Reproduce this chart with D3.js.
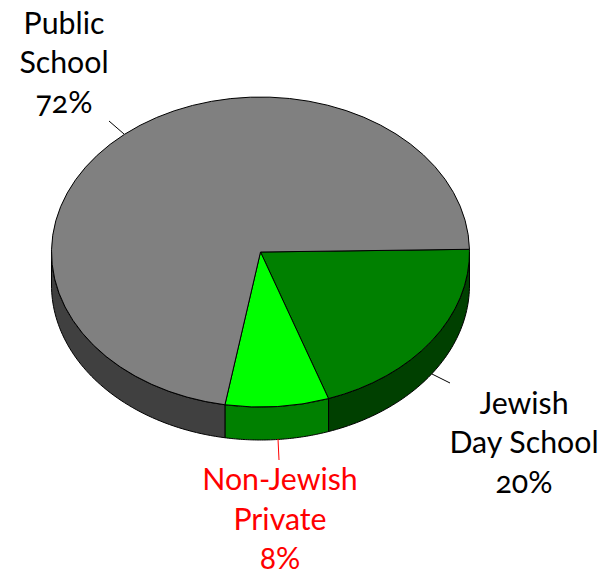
<!DOCTYPE html>
<html><head><meta charset="utf-8">
<script src="https://cdn.jsdelivr.net/npm/d3@7"></script>
<style>
html,body{margin:0;padding:0;background:#fff}
svg{display:block}
text{font-family:"Lato","Open Sans",sans-serif;font-size:30.3px;font-feature-settings:"onum" 1;font-variant-numeric:oldstyle-nums;text-anchor:middle}
</style></head><body>
<svg id="c" width="605" height="573"></svg>
<script>
const categories=["Jewish Day School","Non-Jewish Private","Public School"];
const shares=[20,8,72];
const topColors=["#008000","#00ff00","#808080"];
const sideColors=["#004000","#008000","#404040"];
const labelLines=[["Jewish","Day School","20%"],["Non-Jewish","Private","8%"],["Public","School","72%"]];
const labelColors=["#000000","#ff0000","#000000"];
const labelAnchors=[[524,413.5],[280,490],[64,33.5]];
const leaders=[[[432,374],[450,383]],[[278,439],[279,460]],[[109,121],[124,134]]];

const cx=260.5,cy=252,rx=209,ry=155,depth=33;
const startDeg=89; // d3 angles: 0 = up, clockwise
const toRad=d=>d*Math.PI/180;
const svg=d3.select("#c");
const pie=d3.pie().sort(null).value(d=>d).startAngle(toRad(startDeg)).endAngle(toRad(startDeg+360));
const arcs=pie(shares);
const px=a=>cx+rx*Math.sin(a), py=a=>cy-ry*Math.cos(a);

// side wall: visible where the rim faces the viewer (d3 angle 90..270 deg)
const wall=svg.append("g");
arcs.forEach((d,i)=>{
  const a0=Math.max(d.startAngle,toRad(90)),a1=Math.min(d.endAngle,toRad(270));
  if(a1<=a0)return;
  const n=60,top=d3.range(n+1).map(k=>a0+(a1-a0)*k/n);
  const pts=top.map(a=>[px(a),py(a)]).concat(top.slice().reverse().map(a=>[px(a),py(a)+depth]));
  wall.append("path").attr("d",d3.line()(pts)+"Z").attr("fill",sideColors[i]).attr("stroke","#000").attr("stroke-width",1).attr("stroke-linejoin","round");
});

// top face
const arc=d3.arc().innerRadius(0).outerRadius(rx);
svg.append("g").attr("transform",`translate(${cx},${cy}) scale(1,${ry/rx})`)
 .selectAll("path").data(arcs).join("path")
 .attr("d",arc).attr("fill",(d,i)=>topColors[i])
 .attr("stroke","#000").attr("stroke-width",1).attr("vector-effect","non-scaling-stroke").attr("stroke-linejoin","round");

// leader lines
svg.append("g").selectAll("path").data(leaders).join("path")
 .attr("d",d=>d3.line()(d)).attr("fill","none").attr("stroke-width",1)
 .attr("stroke",(d,i)=>i===1?"#ff0000":"#000");

// labels
labelLines.forEach((lines,i)=>{
  const t=svg.append("text").attr("fill",labelColors[i]);
  lines.forEach((s,j)=>t.append("tspan").attr("x",labelAnchors[i][0]).attr("y",labelAnchors[i][1]+j*39.5).text(s));
});
</script></body></html>
